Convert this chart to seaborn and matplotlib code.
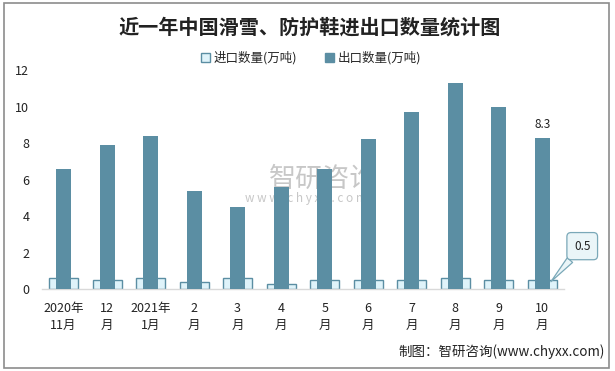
import matplotlib
matplotlib.use("Agg")
import matplotlib.pyplot as plt
import seaborn as sns
import pandas as pd
from matplotlib.patches import Patch, Rectangle

categories = ["2020年\n11月", "12\n月", "2021年\n1月", "2\n月", "3\n月", "4\n月",
              "5\n月", "6\n月", "7\n月", "8\n月", "9\n月", "10\n月"]
import_vals = [0.6, 0.5, 0.6, 0.4, 0.6, 0.3, 0.5, 0.5, 0.5, 0.6, 0.5, 0.5]
export_vals = [6.6, 7.9, 8.4, 5.4, 4.5, 5.6, 6.6, 8.2, 9.7, 11.3, 10.0, 8.3]
series_names = ["进口数量(万吨)", "出口数量(万吨)"]
title = "近一年中国滑雪、防护鞋进出口数量统计图"
source = "制图：智研咨询(www.chyxx.com)"

sns.set_theme(style="white")
plt.rcParams["font.family"] = ["Noto Sans CJK SC", "DejaVu Sans"]

df = pd.DataFrame({"cat": categories, "imp": import_vals, "exp": export_vals})

EXP_C = "#5b8ea3"
IMP_FC = "#dff3fa"
IMP_EC = "#5b8ea3"

fig = plt.figure(figsize=(6.15, 3.71), dpi=100)
ax = fig.add_axes([0.068, 0.221, 0.849, 0.590])

sns.barplot(data=df, x="cat", y="imp", ax=ax, width=0.67, color=IMP_FC,
            edgecolor=IMP_EC, linewidth=1.0, saturation=1, zorder=2)
sns.barplot(data=df, x="cat", y="exp", ax=ax, width=0.345, color=EXP_C,
            saturation=1, linewidth=0, zorder=3)

ax.set_ylim(0, 12)
ax.set_yticks([0, 2, 4, 6, 8, 10, 12])
ax.set_xlim(-0.5, len(categories) - 0.5)
ax.set_xlabel("")
ax.set_ylabel("")
for s in ["top", "right", "left"]:
    ax.spines[s].set_visible(False)
ax.spines["bottom"].set_color("#d9d9d9")
ax.spines["bottom"].set_linewidth(1.0)
ax.tick_params(axis="both", length=0, labelsize=9, colors="#222222")
ax.tick_params(axis="y", pad=9)
ax.tick_params(axis="x", pad=9)
for lab in ax.get_xticklabels():
    lab.set_linespacing(1.45)
ax.set_facecolor("none")

# data labels
last = len(categories) - 1
ax.annotate(f"{export_vals[last]:.1f}", xy=(last, export_vals[last]),
            xytext=(0, 5), textcoords="offset points", ha="center", va="bottom",
            fontsize=8.5, color="#222222")
ax.annotate(f"{import_vals[last]:.1f}", xy=(last + 0.2, import_vals[last] - 0.1),
            xytext=(11.92, 2.35), textcoords="data", ha="center", va="center",
            fontsize=8.5, color="#222222", annotation_clip=False,
            bbox=dict(boxstyle="round,pad=0.6,rounding_size=0.35", fc="#eaf5f8", ec="#7aa8b8", lw=0.9),
            arrowprops=dict(arrowstyle="wedge,tail_width=0.6,shrink_factor=0.5",
                            fc="#eaf5f8", ec="#7aa8b8", lw=0.9, shrinkA=0, shrinkB=0),
            zorder=5)

# legend
handles = [Patch(facecolor=IMP_FC, edgecolor=IMP_EC, linewidth=1.0, label=series_names[0]),
           Patch(facecolor=EXP_C, edgecolor=EXP_C, linewidth=1.0, label=series_names[1])]
fig.legend(handles=handles, loc="center", bbox_to_anchor=(0.506, 0.843), ncol=2, frameon=False,
           fontsize=9, handlelength=0.7, handleheight=0.7, handletextpad=0.3, columnspacing=2.2)

# title
fig.text(0.503, 0.927, title, ha="center", va="center", fontsize=14.5, fontweight="bold", color="#222222")

# source
fig.text(0.983, 0.052, source, ha="right", va="center", fontsize=9.7, color="#222222")

# watermark
ax.text(0.538, 0.50, "智研咨询", transform=ax.transAxes, ha="center", va="center",
        fontsize=19.5, color="#9a9a9a", alpha=0.55, zorder=1)
ax.text(0.506, 0.415, "w w w . c h y x x . c o m", transform=ax.transAxes, ha="center", va="center",
        fontsize=8.5, color="#9a9a9a", alpha=0.55, zorder=1)

# border
fig.patches.append(Rectangle((0.006, 0.008), 0.985, 0.985, transform=fig.transFigure,
                             fill=False, edgecolor="#8c8c8c", linewidth=1.2))

fig.savefig("out.png", dpi=100)
